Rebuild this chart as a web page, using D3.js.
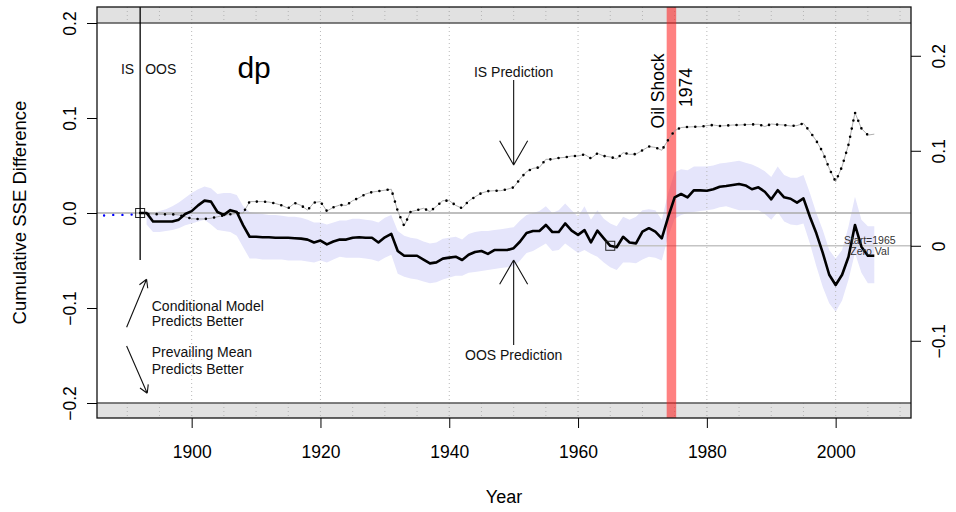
<!DOCTYPE html>
<html lang="en">
<head>
<meta charset="utf-8">
<title>dp - Cumulative SSE Difference</title>
<style>
    body {
        margin: 0;
        background: #fff;
    }
    svg {
        display: block;
        font-family: "Liberation Sans", Arial, sans-serif;
    }
    .axis text {
        font-size: 17.5px;
        fill: #000;
    }
    .axis line {
        stroke: #000;
    }
    .note {
        font-size: 14px;
        fill: #111;
    }
</style>
</head>
<body>
<div id="chart"></div>
<script src="https://cdn.jsdelivr.net/npm/d3@7/dist/d3.min.js"></script>
<script>
// yearly series, first year 1892 (OOS / IS), band starts 1893
var startYear = 1892;
var oosValues = [
    0, 0, -0.009, -0.009, -0.009, -0.009, -0.007, -0.001, 0.002, 0.008,
    0.013, 0.012, 0.001, -0.002, 0.003, 0.001, -0.013, -0.025, -0.025, -0.0255,
    -0.0255, -0.026, -0.026, -0.026, -0.0265, -0.027, -0.028, -0.031, -0.029, -0.033,
    -0.030, -0.028, -0.028, -0.026, -0.0255, -0.026, -0.026, -0.031, -0.0256, -0.022,
    -0.040, -0.045, -0.045, -0.045, -0.049, -0.053, -0.052, -0.048, -0.047, -0.046,
    -0.0495, -0.044, -0.041, -0.040, -0.043, -0.039, -0.039, -0.039, -0.037, -0.030,
    -0.021, -0.019, -0.019, -0.0126, -0.020, -0.020, -0.011, -0.0186, -0.023, -0.018,
    -0.031, -0.0186, -0.0267, -0.0345, -0.036, -0.025, -0.031, -0.032, -0.0197, -0.016,
    -0.0197, -0.0267, -0.004, 0.0165, 0.020, 0.0165, 0.024, 0.0238, 0.0235, 0.025,
    0.0277, 0.0285, 0.0295, 0.0305, 0.029, 0.025, 0.027, 0.0224, 0.0144, 0.024,
    0.0165, 0.015, 0.0109, 0.0154, -0.004, -0.0214, -0.042, -0.065, -0.0758, -0.065,
    -0.046, -0.0126, -0.0355, -0.045, -0.045
];
var isValues = [
    0, -0.001, -0.001, -0.0014, -0.0014, -0.0014, -0.002, -0.004, -0.006, -0.0063,
    -0.0063, -0.0055, -0.004, -0.0025, -0.0014, -0.0005, 0.000, 0.012, 0.012, 0.012,
    0.0115, 0.010, 0.008, 0.005, 0.0105, 0.008, 0.003, 0.011, 0.012, 0.002,
    0.006, 0.0084, 0.008, 0.013, 0.016, 0.020, 0.022, 0.023, 0.024, 0.025,
    0.002, -0.0137, 0.0014, 0.003, 0.005, 0.0015, 0.007, 0.013, 0.013, 0.008,
    0.005, 0.0126, 0.017, 0.021, 0.023, 0.0235, 0.0235, 0.025, 0.027, 0.036,
    0.0435, 0.047, 0.048, 0.0565, 0.0565, 0.058, 0.0586, 0.060, 0.060, 0.0617,
    0.0575, 0.0628, 0.060, 0.059, 0.057, 0.0635, 0.0617, 0.062, 0.066, 0.070,
    0.069, 0.066, 0.077, 0.0867, 0.090, 0.0905, 0.0908, 0.0908, 0.092, 0.0926,
    0.0916, 0.092, 0.0926, 0.0926, 0.093, 0.0932, 0.0934, 0.091, 0.0937, 0.093,
    0.0926, 0.0916, 0.092, 0.0944, 0.0856, 0.076, 0.064, 0.047, 0.033, 0.049,
    0.072, 0.1056, 0.089, 0.082, 0.083
];
var bandStart = 1893;
var bandHigh = [
    0.002, 0.000, 0.002, 0.004, 0.007, 0.011, 0.016, 0.021, 0.025, 0.028,
    0.026, 0.020, 0.021, 0.021, 0.019, 0.007, 0.001, 0.000, -0.001, -0.002,
    -0.002, -0.003, -0.004, -0.004, -0.005, -0.007, -0.010, -0.010, -0.012, -0.010,
    -0.008, -0.008, -0.006, -0.006, -0.007, -0.008, -0.010, -0.005, -0.002, -0.019,
    -0.024, -0.026, -0.027, -0.030, -0.032, -0.031, -0.027, -0.026, -0.025, -0.028,
    -0.022, -0.020, -0.019, -0.019, -0.018, -0.017, -0.016, -0.015, -0.008, -0.002,
    0.000, 0.002, 0.007, 0.000, 0.003, 0.010, 0.003, -0.004, 0.007, -0.007,
    0.003, -0.006, -0.011, -0.014, -0.004, -0.007, -0.004, 0.003, 0.004, 0.003,
    -0.007, 0.021, 0.043, 0.046, 0.045, 0.049, 0.049, 0.049, 0.050, 0.052,
    0.053, 0.054, 0.055, 0.053, 0.051, 0.048, 0.044, 0.038, 0.049, 0.040,
    0.037, 0.037, 0.040, 0.021, 0.000, -0.018, -0.039, -0.048, -0.039, -0.014,
    0.017, -0.007, -0.014, -0.014
];
var bandLow = [
    -0.012, -0.020, -0.020, -0.019, -0.018, -0.016, -0.013, -0.011, -0.009, -0.007,
    -0.012, -0.018, -0.019, -0.020, -0.024, -0.036, -0.048, -0.048, -0.049, -0.049,
    -0.049, -0.049, -0.050, -0.050, -0.050, -0.051, -0.052, -0.050, -0.052, -0.049,
    -0.046, -0.047, -0.047, -0.047, -0.048, -0.049, -0.051, -0.047, -0.044, -0.064,
    -0.067, -0.069, -0.070, -0.072, -0.074, -0.073, -0.070, -0.068, -0.066, -0.066,
    -0.063, -0.062, -0.061, -0.060, -0.059, -0.058, -0.057, -0.056, -0.050, -0.042,
    -0.040, -0.036, -0.032, -0.040, -0.039, -0.032, -0.037, -0.042, -0.039, -0.043,
    -0.046, -0.052, -0.057, -0.060, -0.052, -0.052, -0.053, -0.049, -0.046, -0.047,
    -0.050, -0.025, -0.006, -0.002, 0.000, 0.001, 0.002, 0.003, 0.004, 0.006,
    0.007, 0.005, 0.003, 0.003, 0.003, 0.003, -0.001, -0.007, 0.001, -0.009,
    -0.012, -0.013, -0.011, -0.032, -0.056, -0.078, -0.095, -0.104, -0.092, -0.070,
    -0.042, -0.063, -0.074, -0.074
];
// in-sample warm-up period (blue dotted)
var preYears = [1885, 1886, 1887, 1888, 1889, 1890, 1891, 1892];
var preValues = [-0.0045, -0.003, -0.002, -0.002, -0.002, -0.002, -0.0015, 0];

var oosStartYear = 1892;
var zeroYear = 1965;
var oilShockYear = 1974.5;
var xTicks = [1900, 1920, 1940, 1960, 1980, 2000];
var leftTicks = [0.2, 0.1, 0, -0.1, -0.2];
var rightTicks = [0.2, 0.1, 0, -0.1];

var width = 956, height = 512;
var box = { left: 97, right: 911, top: 7, bottom: 418 };

var x = d3.scaleLinear().domain([1885.3, 2011.7]).range([box.left, box.right]);
var y = d3.scaleLinear().domain([-0.2, 0.2]).range([403, 23]);

var oos = oosValues.map(function(v, i) { return { year: startYear + i, v: v }; });
var ins = isValues.map(function(v, i) { return { year: startYear + i, v: v }; });
var band = bandHigh.map(function(h, i) { return { year: bandStart + i, hi: h, lo: bandLow[i] }; });
var pre = preYears.map(function(yr, i) { return { year: yr, v: preValues[i] }; });

var zeroVal = oosValues[zeroYear - startYear];
var yR = d3.scaleLinear()
    .domain(y.domain().map(function(d) { return d - zeroVal; }))
    .range(y.range());

var fmt = function(d) {
    var s = d === 0 ? "0.0" : d3.format(".1f")(Math.abs(d));
    return (d < 0 ? "\u2212" : "") + s;
};
var fmtR = function(d) {
    if (Math.abs(d) < 1e-9) return "0";
    return (d < 0 ? "\u2212" : "") + d3.format(".1f")(Math.abs(d));
};

var svg = d3.select("#chart").append("svg")
    .attr("width", width)
    .attr("height", height);

svg.append("defs").append("clipPath")
    .attr("id", "plotclip")
    .append("rect")
    .attr("x", box.left).attr("y", box.top)
    .attr("width", box.right - box.left).attr("height", box.bottom - box.top);

var plot = svg.append("g").attr("clip-path", "url(#plotclip)");

// grey strips outside +-0.2
plot.append("rect")
    .attr("x", box.left).attr("y", box.top)
    .attr("width", box.right - box.left).attr("height", y(0.2) - box.top)
    .attr("fill", "#e1e1e1");
plot.append("rect")
    .attr("x", box.left).attr("y", y(-0.2))
    .attr("width", box.right - box.left).attr("height", box.bottom - y(-0.2))
    .attr("fill", "#e1e1e1");

// 5-year marks in the strips
var minor = d3.range(1890, 2011, 5);
[[box.top, y(0.2)], [y(-0.2), box.bottom]].forEach(function(s) {
    plot.selectAll(null)
        .data(minor)
        .enter().append("line")
        .attr("x1", function(d) { return x(d); })
        .attr("x2", function(d) { return x(d); })
        .attr("y1", s[0]).attr("y2", s[1])
        .attr("stroke", "#b4b4b4")
        .attr("stroke-dasharray", "1,3");
});

// confidence band
plot.append("path")
    .datum(band)
    .attr("fill", "#e5e5fb")
    .attr("d", d3.area()
        .x(function(d) { return x(d.year); })
        .y0(function(d) { return y(d.lo); })
        .y1(function(d) { return y(d.hi); }));

// zero line and the zero at 1965
plot.append("line")
    .attr("x1", box.left).attr("x2", box.right)
    .attr("y1", y(0)).attr("y2", y(0))
    .attr("stroke", "#aaa").attr("stroke-width", 1.5);
plot.append("line")
    .attr("x1", x(zeroYear)).attr("x2", box.right)
    .attr("y1", y(zeroVal)).attr("y2", y(zeroVal))
    .attr("stroke", "#c4c4c4").attr("stroke-width", 1.5);

// vertical dotted grid
plot.selectAll(".grid")
    .data(xTicks)
    .enter().append("line")
    .attr("class", "grid")
    .attr("x1", function(d) { return x(d); })
    .attr("x2", function(d) { return x(d); })
    .attr("y1", box.top).attr("y2", box.bottom)
    .attr("stroke", "#b8b8b8")
    .attr("stroke-dasharray", "1,3");

// lines at +-0.2
[0.2, -0.2].forEach(function(v) {
    plot.append("line")
        .attr("x1", box.left).attr("x2", box.right)
        .attr("y1", y(v)).attr("y2", y(v))
        .attr("stroke", "#555").attr("stroke-width", 1.6);
});

// oil shock
plot.append("line")
    .attr("x1", x(oilShockYear)).attr("x2", x(oilShockYear))
    .attr("y1", box.top).attr("y2", box.bottom)
    .attr("stroke", "#ff1a1a").attr("stroke-opacity", 0.55)
    .attr("stroke-width", 9.5);

var line = d3.line()
    .x(function(d) { return x(d.year); })
    .y(function(d) { return y(d.v); });

// IS prediction: thin grey line + dots
plot.append("path")
    .datum(ins)
    .attr("fill", "none")
    .attr("stroke", "#9a9a9a")
    .attr("stroke-width", 0.8)
    .attr("d", line);
plot.append("path")
    .datum(ins)
    .attr("fill", "none")
    .attr("stroke", "#000")
    .attr("stroke-width", 2.6)
    .attr("stroke-linecap", "round")
    .attr("stroke-dasharray", "0,8.3")
    .attr("d", line);

plot.append("path")
    .datum(pre)
    .attr("fill", "none")
    .attr("stroke", "#0000ff")
    .attr("stroke-width", 2.4)
    .attr("stroke-linecap", "round")
    .attr("stroke-dasharray", "0,9.2")
    .attr("d", line);

// OOS prediction
plot.append("path")
    .datum(oos)
    .attr("fill", "none")
    .attr("stroke", "#000")
    .attr("stroke-width", 2.6)
    .attr("stroke-linejoin", "round")
    .attr("d", line);

// markers
[[oosStartYear, 0], [zeroYear, zeroVal]].forEach(function(p) {
    plot.append("rect")
        .attr("x", x(p[0]) - 4.5).attr("y", y(p[1]) - 4.5)
        .attr("width", 9).attr("height", 9)
        .attr("fill", "none")
        .attr("stroke", "#222").attr("stroke-width", 1);
});

// IS / OOS split
plot.append("line")
    .attr("x1", x(oosStartYear)).attr("x2", x(oosStartYear))
    .attr("y1", box.top).attr("y2", y(-0.0495))
    .attr("stroke", "#000").attr("stroke-width", 1.3);

// box
svg.append("rect")
    .attr("x", box.left).attr("y", box.top)
    .attr("width", box.right - box.left).attr("height", box.bottom - box.top)
    .attr("fill", "none")
    .attr("stroke", "#111").attr("stroke-width", 1.3);

// axes
var xAxis = svg.append("g")
    .attr("class", "axis")
    .attr("transform", "translate(0," + box.bottom + ")")
    .call(d3.axisBottom(x).tickValues(xTicks).tickFormat(d3.format("d"))
        .tickSize(10).tickPadding(18));
xAxis.select(".domain").remove();

var yAxis = svg.append("g")
    .attr("class", "axis")
    .attr("transform", "translate(" + box.left + ",0)")
    .call(d3.axisLeft(y).tickValues(leftTicks).tickFormat(fmt).tickSize(10));
yAxis.select(".domain").remove();
yAxis.selectAll("text")
    .attr("x", null)
    .attr("dy", "0.35em")
    .attr("text-anchor", "middle")
    .attr("transform", "translate(-27,0) rotate(-90)");

var yAxisR = svg.append("g")
    .attr("class", "axis")
    .attr("transform", "translate(" + box.right + ",0)")
    .call(d3.axisRight(yR).tickValues(rightTicks).tickFormat(fmtR).tickSize(10));
yAxisR.select(".domain").remove();
yAxisR.selectAll("text")
    .attr("x", null)
    .attr("dy", "0.35em")
    .attr("text-anchor", "middle")
    .attr("transform", "translate(28,0) rotate(-90)");

svg.append("text")
    .attr("transform", "translate(20," + ((box.top + box.bottom) / 2) + ") rotate(-90)")
    .attr("dy", "0.35em")
    .attr("text-anchor", "middle")
    .style("font-size", "18.5px")
    .text("Cumulative SSE Difference");

svg.append("text")
    .attr("x", (box.left + box.right) / 2)
    .attr("y", 497)
    .attr("dy", "0.35em")
    .attr("text-anchor", "middle")
    .style("font-size", "18px")
    .text("Year");

// annotations
function arrow(x0, y0, x1, y1, len) {
    var a = Math.atan2(y1 - y0, x1 - x0);
    var p = d3.path();
    p.moveTo(x0, y0);
    p.lineTo(x1, y1);
    [a + Math.PI - Math.PI / 6, a + Math.PI + Math.PI / 6].forEach(function(b) {
        p.moveTo(x1, y1);
        p.lineTo(x1 + len * Math.cos(b), y1 + len * Math.sin(b));
    });
    svg.append("path")
        .attr("d", p.toString())
        .attr("fill", "none")
        .attr("stroke", "#111")
        .attr("stroke-width", 1.1);
}

function note(tx, ty, str, anchor, size) {
    return svg.append("text")
        .attr("class", "note")
        .attr("x", tx).attr("y", ty)
        .attr("dy", "0.35em")
        .attr("text-anchor", anchor || "start")
        .style("font-size", size ? size + "px" : null)
        .text(str);
}

note(x(oosStartYear) - 6, y(0.1516), "IS", "end");
note(x(oosStartYear) + 5, y(0.1516), "OOS", "start");

svg.append("text")
    .attr("x", x(1909.7)).attr("y", y(0.142))
    .attr("text-anchor", "middle")
    .style("font-size", "30px")
    .text("dp");

note(x(1950), y(0.1484), "IS Prediction", "middle");
arrow(x(1950), y(0.14), x(1950), y(0.0505), 28);

note(x(1950), y(-0.1495), "OOS Prediction", "middle");
arrow(x(1950), y(-0.139), x(1950), y(-0.0495), 28);

svg.append("text")
    .attr("transform", "translate(" + (x(oilShockYear) - 7) + "," + y(0.1284) + ") rotate(-90)")
    .attr("text-anchor", "middle")
    .style("font-size", "17.5px")
    .text("Oil Shock");
svg.append("text")
    .attr("transform", "translate(" + (x(oilShockYear) + 21) + "," + y(0.132) + ") rotate(-90)")
    .attr("text-anchor", "middle")
    .style("font-size", "17.5px")
    .text("1974");

note(x(1893.8), y(-0.0976), "Conditional Model");
note(x(1893.8), y(-0.1137), "Predicts Better");
note(x(1893.8), y(-0.1466), "Prevailing Mean");
note(x(1893.8), y(-0.1642), "Predicts Better");
arrow(x(1889.9), y(-0.1203), x(1893.0), y(-0.0698), 9);
arrow(x(1889.9), y(-0.14), x(1893.1), y(-0.1898), 9);

note(x(2005.3), y(-0.0284), "Start=1965", "middle", 10.5).style("fill", "#333");
note(x(2005.3), y(-0.040), "Zero Val", "middle", 10.5).style("fill", "#333");
</script>
</body>
</html>
